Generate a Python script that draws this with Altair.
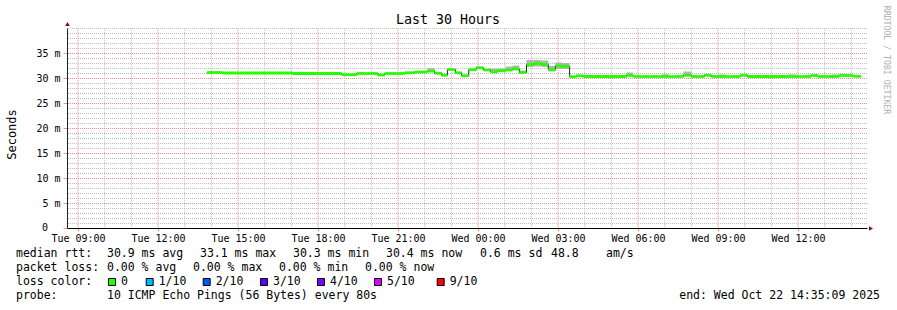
import altair as alt
import pandas as pd

# ---------------- data ----------------
seg_start = [
    "2025-10-21T13:50", "2025-10-21T14:23", "2025-10-21T17:03", "2025-10-21T18:53",
    "2025-10-21T19:27", "2025-10-21T20:14", "2025-10-21T20:30", "2025-10-21T21:15",
    "2025-10-21T21:37", "2025-10-21T22:06", "2025-10-21T22:22", "2025-10-21T22:38",
    "2025-10-21T22:51", "2025-10-21T23:09", "2025-10-21T23:23", "2025-10-21T23:39",
    "2025-10-21T23:56", "2025-10-22T00:12", "2025-10-22T00:28", "2025-10-22T00:44",
    "2025-10-22T01:02", "2025-10-22T01:17", "2025-10-22T01:33", "2025-10-22T01:49",
    "2025-10-22T02:05", "2025-10-22T02:23", "2025-10-22T02:38", "2025-10-22T02:54",
    "2025-10-22T03:10", "2025-10-22T03:26", "2025-10-22T03:41", "2025-10-22T03:57",
    "2025-10-22T05:34", "2025-10-22T05:49", "2025-10-22T06:53", "2025-10-22T07:09",
    "2025-10-22T07:42", "2025-10-22T08:00", "2025-10-22T08:29", "2025-10-22T08:45",
    "2025-10-22T09:02", "2025-10-22T09:18", "2025-10-22T09:50", "2025-10-22T10:06",
    "2025-10-22T11:35", "2025-10-22T11:58", "2025-10-22T12:29", "2025-10-22T12:45",
    "2025-10-22T13:15", "2025-10-22T13:32", "2025-10-22T14:04",
]
data_end = "2025-10-22T14:22"
median_ms = [
    31.1, 31.0, 30.9, 30.65, 30.9, 30.6, 30.9, 31.05,
    31.2, 31.4, 30.95, 30.55, 31.7, 31.05, 30.45, 31.65,
    32.05, 31.6, 31.25, 31.45, 31.6, 31.8, 31.1, 32.7,
    32.9, 32.7, 31.7, 32.4, 32.35, 30.25, 30.45, 30.3,
    30.55, 30.3, 30.3, 30.3, 30.55, 30.3, 30.55, 30.3,
    30.3, 30.3, 30.55, 30.3, 30.3, 30.3, 30.5, 30.3,
    30.3, 30.5, 30.35,
]
smoke_lo = [
    31.1, 31.0, 30.9, 30.65, 30.9, 30.6, 30.9, 31.05,
    31.2, 31.3, 30.95, 30.55, 31.7, 31.05, 30.45, 31.65,
    32.05, 31.6, 31.25, 31.45, 31.6, 31.8, 30.8, 32.2,
    32.3, 32.2, 31.3, 31.8, 31.8, 30.25, 30.45, 30.3,
    30.3, 30.3, 30.3, 30.3, 30.4, 30.3, 30.55, 30.3,
    30.3, 30.3, 30.55, 30.3, 30.3, 30.3, 30.5, 30.3,
    30.3, 30.5, 30.35,
]
smoke_hi = [
    31.1, 31.0, 30.9, 30.65, 30.9, 30.6, 30.9, 31.05,
    31.2, 32.0, 30.95, 30.55, 31.9, 31.05, 30.45, 31.65,
    32.2, 31.8, 31.9, 31.9, 32.3, 32.5, 31.5, 33.6,
    33.6, 33.5, 32.4, 33.1, 33.0, 30.25, 30.45, 30.3,
    31.1, 30.3, 30.75, 30.3, 31.3, 30.3, 30.55, 30.3,
    30.7, 30.3, 30.55, 30.3, 30.7, 30.3, 30.5, 30.3,
    30.7, 30.5, 30.35,
]

y_tick_values = [0, 5, 10, 15, 20, 25, 30, 35]

loss_labels = ["0", "1/10", "2/10", "3/10", "4/10", "5/10", "9/10"]
loss_colors = ["#26ff00", "#00b8ff", "#0059ff", "#5e00ff", "#7e00ff", "#dd00ff", "#ff0000"]

title_text = "Last 30 Hours"
y_title = "Seconds"
zero_label = "0"
row_rtt = ["median rtt:", "30.9 ms avg", "33.1 ms max", "30.3 ms min", "30.4 ms now",
           "0.6 ms sd", "48.8", "am/s"]
row_loss = ["packet loss:", "0.00 % avg", "0.00 % max", "0.00 % min", "0.00 % now"]
row_color_label = "loss color:"
row_probe = ["probe:", "10 ICMP Echo Pings (56 Bytes) every 80s"]
end_text = "end: Wed Oct 22 14:35:09 2025"
watermark = "RRDTOOL / TOBI OETIKER"

range_start = "2025-10-21T08:35:09"
range_end = "2025-10-22T14:35:09"

# ---------------- layout / style ----------------
MONO = "DejaVu Sans Mono"
GREEN = "#26ff00"
L, T, W, H = 67, 28, 800, 200           # plot area in page pixels
PAGE_W, PAGE_H = 897, 310
MINOR = "#bdbdbd"
MAJOR = "#f09090"


def ms(s):
    return int(pd.Timestamp(s, tz="UTC").value // 10**6)


segs = pd.DataFrame({
    "start": [ms(s) for s in seg_start],
    "end": [ms(s) for s in seg_start[1:] + [data_end]],
    "med": median_ms,
    "lo": smoke_lo,
    "hi": smoke_hi,
})
line_df = pd.DataFrame({
    "start": [ms(s) for s in seg_start + [data_end]],
    "med": median_ms + [median_ms[-1]],
})

hours = pd.date_range("2025-10-21 09:00", "2025-10-22 14:00", freq="h")
vminor = pd.DataFrame({"t": [ms(h) for h in hours if h.hour % 3]})
vmajor = pd.DataFrame({"t": [ms(h) for h in hours if h.hour % 3 == 0]})
hminor = pd.DataFrame({"v": [v for v in range(1, 41) if v % 5 or v == 40]})
hmajor = pd.DataFrame({"v": [5, 10, 15, 20, 25, 30, 35]})
x_tick_values = [ms(h) for h in hours if h.hour % 3 == 0]

xscale = alt.Scale(type="utc", domain=[ms(range_start), ms(range_end)], nice=False)
yscale = alt.Scale(domain=[0, 40], nice=False, zero=True)

xax = alt.Axis(
    title=None, format="%a %H:%M", formatType="time", values=x_tick_values,
    grid=False, domainColor="#000000", domainWidth=1, tickColor=MAJOR, tickSize=3,
    labelFont=MONO, labelFontSize=10, labelColor="#000000",
    labelPadding=2, labelFlush=False, labelOverlap=False,
)
yax = alt.Axis(
    title=y_title, values=y_tick_values,
    labelExpr="datum.value == 0 ? '' : datum.value + ' m'",
    grid=False, domainColor="#222222", domainWidth=1, tickColor=MAJOR, tickSize=4,
    labelFont=MONO, labelFontSize=10, labelColor="#000000", labelPadding=3,
    titleFont=MONO, titleFontSize=12, titleFontWeight="normal", titleColor="#000000",
    titleAngle=270, titleX=-56, titleY=106, titleAlign="center", titleBaseline="middle",
)


def X(f):
    return alt.X(f, scale=xscale, axis=xax)


def Y(f):
    return alt.Y(f, scale=yscale, axis=yax)


grid_vminor = alt.Chart(vminor).mark_rule(
    color=MINOR, strokeWidth=1, strokeDash=[1, 1]).encode(x=X("t:T"))
grid_vmajor = alt.Chart(vmajor).mark_rule(
    color=MAJOR, strokeWidth=1, strokeDash=[1, 1]).encode(x=X("t:T"))
grid_hminor = alt.Chart(hminor).mark_rule(
    color=MINOR, strokeWidth=1, strokeDash=[1, 1], yOffset=0.5).encode(y=Y("v:Q"))
grid_hmajor = alt.Chart(hmajor).mark_rule(
    color=MAJOR, strokeWidth=1, strokeDash=[1, 1], yOffset=0.5).encode(y=Y("v:Q"))

smoke = alt.Chart(segs).mark_rect(color="#b4b4b4").encode(
    x=X("start:T"), x2="end:T", y=Y("lo:Q"), y2="hi:Q")
step_line = alt.Chart(line_df).mark_line(interpolate="step-after", color="#222222", strokeWidth=1).encode(
    x=X("start:T"), y=Y("med:Q"))
median_rules = alt.Chart(segs).mark_rule(color=GREEN, strokeWidth=2.8).encode(
    x=X("start:T"), x2="end:T", y=Y("med:Q"))

layers = [grid_vminor, grid_hminor, grid_vmajor, grid_hmajor, smoke, step_line, median_rules]


def txt(s, px, py, size=11.5, align="left", color="#000000", angle=0):
    return alt.Chart(pd.DataFrame({"t": [s]})).mark_text(
        align=align, baseline="middle", font=MONO, fontSize=size, color=color, angle=angle
    ).encode(x=alt.value(px - L), y=alt.value(py - T), text="t:N")


layers.append(txt(title_text, 448, 19.5, size=13.3, align="center"))
layers.append(txt(watermark, 886, 60, size=8.2, align="center", color="#b0b0b0", angle=90))
layers.append(txt(zero_label, 48, 228, size=10, align="right"))

rtt_x = [16, 107, 200, 293, 386, 480, 551, 606]
for s, px in zip(row_rtt, rtt_x):
    layers.append(txt(s, px, 254.3))
loss_x = [16, 107, 193, 279, 365]
for s, px in zip(row_loss, loss_x):
    layers.append(txt(s, px, 268.3))
layers.append(txt(row_color_label, 16, 282.3))
box_x = [108, 145.7, 202.7, 260, 317, 374, 436.7]
for lab, col, bx in zip(loss_labels, loss_colors, box_x):
    layers.append(
        alt.Chart(pd.DataFrame({"t": [lab]})).mark_rect(color=col, stroke="#000000", strokeWidth=1).encode(
            x=alt.value(bx + 0.5 - L), x2=alt.value(bx + 7.5 - L),
            y=alt.value(278.5 - T), y2=alt.value(285.5 - T))
    )
    layers.append(txt(lab, bx + 13, 282.3))
probe_x = [16, 107]
for s, px in zip(row_probe, probe_x):
    layers.append(txt(s, px, 296.3))
layers.append(txt(end_text, 880, 296.3, align="right"))

# axis arrows
layers.append(alt.Chart(pd.DataFrame({"a": [0]})).mark_point(
    shape="triangle-up", filled=True, size=22, color="#7a1414", opacity=1).encode(
    x=alt.value(0.5), y=alt.value(-4)))
layers.append(alt.Chart(pd.DataFrame({"a": [0]})).mark_point(
    shape="triangle-right", filled=True, size=22, color="#7a1414", opacity=1).encode(
    x=alt.value(W + 4), y=alt.value(H + 0.5)))

chart = alt.layer(*layers).properties(
    width=W, height=H, autosize="none",
    padding={"left": L, "top": T, "right": PAGE_W - L - W, "bottom": PAGE_H - T - H},
    background="#ffffff",
).configure_view(stroke=None)

chart.save("out.html", embed_options={"renderer": "svg", "actions": False})
